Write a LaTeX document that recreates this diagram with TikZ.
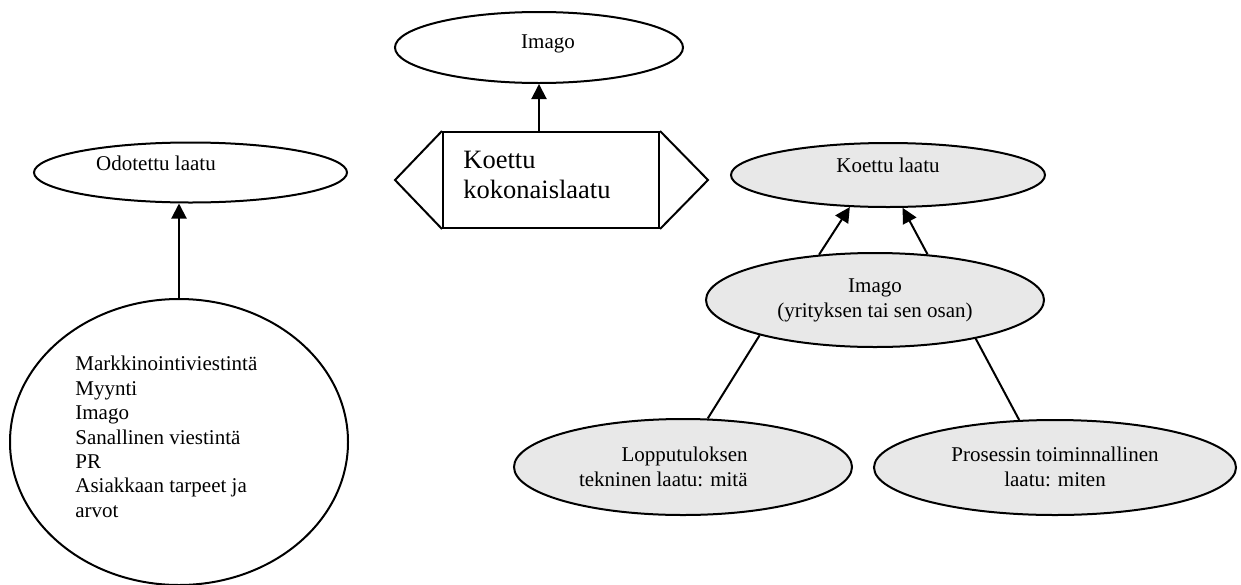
\documentclass[tikz,border=0pt]{standalone}
\usepackage{fontspec}
\setmainfont{Liberation Serif}
\usetikzlibrary{shapes.geometric,arrows.meta}
\definecolor{ovalgray}{RGB}{232,232,232}

\begin{document}
\begin{tikzpicture}[x=0.5pt,y=-0.5pt,
    oval/.style={ellipse,draw,line width=1pt,inner sep=0pt},
    grayoval/.style={oval,fill=ovalgray},
    txt/.style={inner sep=0pt,font=\fontsize{10.5}{12.5}\selectfont},
    arr/.style={line width=1pt,-{Triangle[length=7.5pt,width=7.5pt]}},
    conn/.style={line width=1pt}]
  \useasboundingbox (0,0) rectangle (1241,584);

  % left column
  \node[oval,minimum width=156.5pt,minimum height=30pt] (odot) at (190.5,172.5) {};
  \node[txt] (odottxt) at (156,163) {Odotettu laatu};
  \node[oval,minimum width=169pt,minimum height=143pt] (tekijat) at (179,442) {};
  \node[txt,align=left,anchor=west,font=\fontsize{10.5}{12.2}\selectfont] (tekijattxt) at (75,437)
    {Markkinointiviestintä\\Myynti\\Imago\\Sanallinen viestintä\\PR\\Asiakkaan tarpeet ja\\arvot};
  \draw[arr] (tekijat.north) -- (tekijat.north |- odot.south);

  % middle: box with side points
  \node[oval,minimum width=144pt,minimum height=35.5pt] (imago) at (539,47.5) {};
  \node[txt] (imagotxt) at (548,44) {Imago};
  \node[draw,line width=1pt,minimum width=108pt,minimum height=48pt,inner sep=0pt] (kokon) at (551,180) {};
  \node[inner sep=0pt,anchor=west,align=left,font=\fontsize{13.25}{15}\selectfont] (kokontxt) at (463,175)
    {Koettu\\kokonaislaatu};
  \coordinate (ltip) at (395,180);
  \coordinate (rtip) at (708,180);
  \draw[conn] (kokon.north west) -- (ltip) -- (kokon.south west);
  \draw[conn] (kokon.north east) -- (rtip) -- (kokon.south east);
  \draw[arr] (imago.south |- kokon.north) -- (imago.south);

  % right tree
  \node[grayoval,minimum width=157pt,minimum height=32pt] (koettu) at (888,175) {};
  \node[txt] (koettutxt) at (888,165) {Koettu laatu};
  \node[grayoval,minimum width=169pt,minimum height=47pt] (yritys) at (875,300) {};
  \node[txt,align=center] (yritystxt) at (875,300) {Imago\\(yrityksen tai sen osan)};
  \node[grayoval,minimum width=169pt,minimum height=48pt] (tekn) at (683,467) {};
  \node[txt,align=right,anchor=east] (tekntxt) at (748,467) {Lopputuloksen\\tekninen laatu: mitä};
  \node[grayoval,minimum width=181pt,minimum height=47.5pt] (toim) at (1055,467.5) {};
  \node[txt,align=center] (toimtxt) at (1055,467) {Prosessin toiminnallinen\\laatu: miten};

  \draw[arr] (yritys.141) -- (koettu.220);
  \draw[arr] (yritys.41) -- (koettu.294);
  \draw[conn] (yritys.197) -- (tekn.63);
  \draw[conn] (yritys.339) -- (toim.127);
\end{tikzpicture}
\end{document}
